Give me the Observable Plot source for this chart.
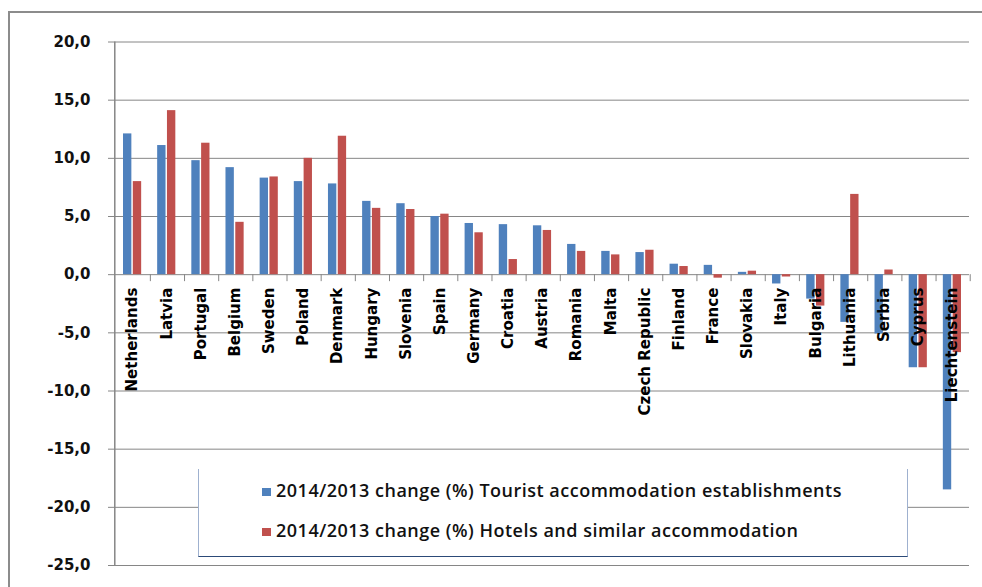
<!DOCTYPE html>
<html>
<head>
<meta charset="utf-8">
<script src="https://cdn.jsdelivr.net/npm/d3@7"></script>
<script src="https://cdn.jsdelivr.net/npm/@observablehq/plot@0.6"></script>
<style>
  html, body { margin: 0; padding: 0; background: #fff; }
  #wrap { position: relative; width: 982px; height: 587px; overflow: hidden; background: #fff; }
  #outer { position: absolute; left: 8px; top: 11px; width: 990px; height: 600px;
           border-left: 2px solid #8c8c8c; border-top: 2px solid #8c8c8c; box-sizing: border-box; pointer-events: none; }
  #legend { position: absolute; left: 198px; top: 469px; width: 710px; height: 88px; box-sizing: border-box;
            background: #fff; border-left: 1px solid #9fb1cf; border-right: 1px solid #9fb1cf; border-bottom: 1.5px solid #2c4a78; }
  .item { position: absolute; left: 63px; font-family: "Open Sans", sans-serif; font-weight: 600; font-size: 18px; letter-spacing: 0.5px; color: #111; white-space: nowrap; line-height: 20px; }
  .sw { display: inline-block; width: 9px; height: 8px; margin-right: 5px; vertical-align: 1px; }
</style>
</head>
<body>
<div id="wrap">
  <div id="chart"></div>
  <div id="outer"></div>
  <div id="legend"></div>
</div>
<script>
const countryList = ["Netherlands","Latvia","Portugal","Belgium","Sweden","Poland","Denmark","Hungary","Slovenia","Spain","Germany","Croatia","Austria","Romania","Malta","Czech Republic","Finland","France","Slovakia","Italy","Bulgaria","Lithuania","Serbia","Cyprus","Liechtenstein"];
const touristChange = [12.1, 11.1, 9.8, 9.2, 8.3, 8.0, 7.8, 6.3, 6.1, 5.0, 4.4, 4.3, 4.2, 2.6, 2.0, 1.9, 0.9, 0.8, 0.2, -0.8, -2.1, -4.1, -5.1, -8.0, -18.5];
const hotelsChange  = [8.0, 14.1, 11.3, 4.5, 8.4, 10.0, 11.9, 5.7, 5.6, 5.2, 3.6, 1.3, 3.8, 2.0, 1.7, 2.1, 0.7, -0.3, 0.3, -0.2, -2.7, 6.9, 0.4, -8.0, -6.7];
const yTicks = [20, 15, 10, 5, 0, -5, -10, -15, -20, -25];
const seriesNames = ["2014/2013 change (%) Tourist accommodation establishments", "2014/2013 change (%) Hotels and similar accommodation"];
const seriesColors = ["#4f81bd", "#c0504d"];

const tourist = countryList.map((c, i) => ({country: c, value: touristChange[i]}));
const hotels = countryList.map((c, i) => ({country: c, value: hotelsChange[i]}));

const fmt = d => d.toFixed(1).replace(".", ",");
const grid = "#868686";

const chart = Plot.plot({
  width: 982,
  height: 587,
  marginLeft: 115,
  marginRight: 13,
  marginTop: 41.5,
  marginBottom: 22,
  style: {fontFamily: "DejaVu Sans", fontSize: "15px", fontWeight: "bold", color: "#111", background: "transparent"},
  x: {domain: countryList, padding: 0, round: false, axis: null},
  y: {domain: [-25, 20], axis: null},
  marks: [
    Plot.ruleY(yTicks, {stroke: grid, strokeWidth: 1}),
    Plot.axisY(yTicks, {label: null, tickSize: 7, tickPadding: 18, tickFormat: fmt, stroke: grid, fill: "#111", fontSize: 15, fontWeight: "bold"}),
    Plot.ruleX([countryList[0]], {dx: -854 / 48, y1: -25, y2: 20, stroke: grid, strokeWidth: 1.5}),
    Plot.ruleX(countryList, {x: d => d, dx: 854 / 48, y1: 0, y2: -0.6, stroke: grid}),
    Plot.barY(tourist, {x: "country", y: "value", fill: seriesColors[0], insetLeft: 8, insetRight: 17.8}),
    Plot.barY(hotels, {x: "country", y: "value", fill: seriesColors[1], insetLeft: 17.8, insetRight: 8}),
    Plot.text(countryList, {x: d => d, y: 0, text: d => d, rotate: -90, textAnchor: "end", dy: 13, fill: "#000", fontSize: 15, fontWeight: "bold"})
  ]
});
document.getElementById("chart").appendChild(chart);

const legend = document.getElementById("legend");
const tops = [11, 51];
seriesNames.forEach((name, i) => {
  const item = document.createElement("div");
  item.className = "item";
  item.style.top = tops[i] + "px";
  item.innerHTML = `<span class="sw" style="background:${seriesColors[i]}"></span>${name}`;
  legend.appendChild(item);
});
</script>
</body>
</html>
